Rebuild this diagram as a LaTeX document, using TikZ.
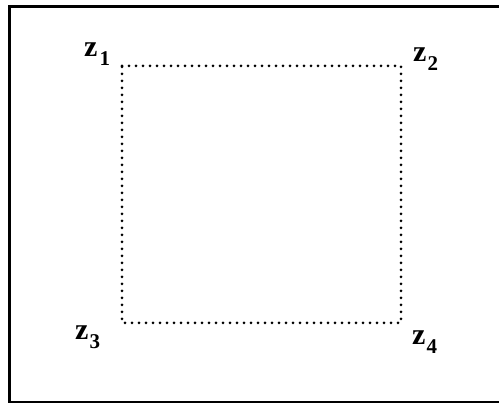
\documentclass[tikz,border=0pt]{standalone}
\usepackage{fontspec}
\setmainfont{Liberation Serif}
\newcommand{\mysub}[1]{\raisebox{-9pt}{\fontsize{21}{21}\selectfont\bfseries #1}}
\begin{document}
\begin{tikzpicture}[x=1pt,y=1pt,
  lbl/.style={anchor=base west,inner sep=0pt,font=\fontsize{30}{32}\selectfont\bfseries},
  frameline/.style={line width=2.5pt},
  dotline/.style={line width=3pt,line cap=round,dash pattern=on 0pt off 7pt}]
\useasboundingbox (0,0) rectangle (499,404);
\fill[white] (0,0) rectangle (499,404);
\draw[frameline] (499,397.5) -- (9.5,397.5) -- (9.5,2) -- (499,2);
\coordinate (c1) at (122,338);
\coordinate (c2) at (401,338);
\coordinate (c3) at (122,81);
\coordinate (c4) at (401,81);
\draw[dotline] (c1) -- (c2) -- (c4) -- (c3) -- cycle;
\node[lbl] (z1) at (84,347) {z\hspace{2pt}\mysub{1}};
\node[lbl] (z2) at (413,342) {z\hspace{1pt}\mysub{2}};
\node[lbl] (z3) at (75,64) {z\hspace{1pt}\mysub{3}};
\node[lbl] (z4) at (412,59) {z\hspace{1pt}\mysub{4}};
\end{tikzpicture}
\end{document}
